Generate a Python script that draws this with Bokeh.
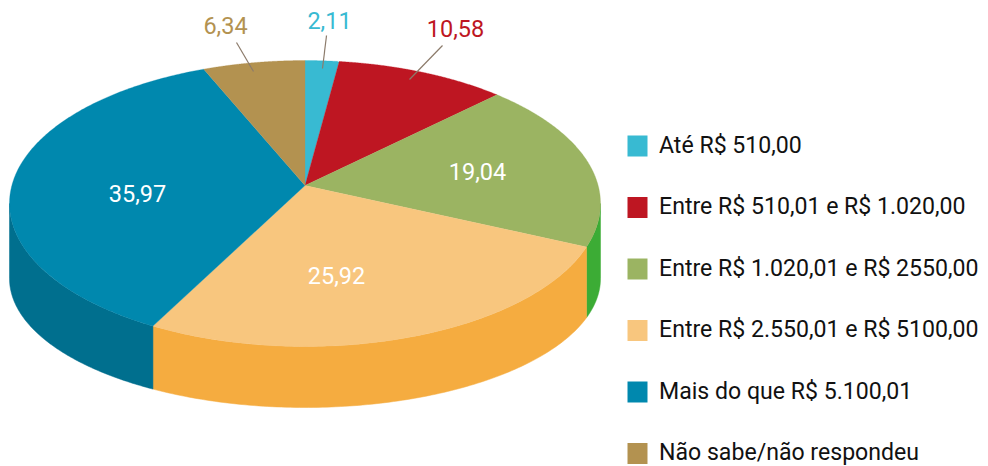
import numpy as np
from bokeh.plotting import figure
from bokeh.embed import file_html
from bokeh.resources import INLINE
from bokeh.core.properties import value

categories = ["Até R$ 510,00", "Entre R$ 510,01 e R$ 1.020,00", "Entre R$ 1.020,01 e R$ 2550,00",
              "Entre R$ 2.550,01 e R$ 5100,00", "Mais do que R$ 5.100,01", "Não sabe/não respondeu"]
values = [2.11, 10.58, 19.04, 25.92, 35.97, 6.34]
labels = ["2,11", "10,58", "19,04", "25,92", "35,97", "6,34"]
top_colors = ["#38BAD2", "#BE1622", "#9BB462", "#F8C67E", "#0088AE", "#B39250"]
side_colors = ["#38BAD2", "#BE1622", "#3CAC35", "#F5AC40", "#006F8E", "#B39250"]
label_colors = ["#38BAD2", "#BE1622", "#FFFFFF", "#FFFFFF", "#FFFFFF", "#B39250"]
label_x = [329, 455, 477, 336, 137, 225]
label_y = [20, 28, 171, 275, 193, 25]
leader_x = [[326, 322], [442, 409], [236, 253]]
leader_y = [[35, 68], [45, 79], [42, 71]]

FONT = "Roboto"
CX, CY, RX, RY = 304.5, 203, 295.5, 143
APEX = 18 / RY
CY2, RY2 = 278, 129

def rim(theta):
    """Unit-disc rim point hit by the ray at theta from the off-centre apex."""
    sx, cx = np.sin(theta), np.cos(theta)
    s = -APEX * cx + np.sqrt((APEX * cx) ** 2 + 1 - APEX ** 2)
    return s * sx, APEX + s * cx

p = figure(width=988, height=466, x_range=(0, 988), y_range=(466, 0),
           output_backend="svg", toolbar_location=None, min_border=0)
p.axis.visible = False
p.grid.visible = False
p.outline_line_color = None
p.background_fill_color = "#FFFFFF"

cum = np.concatenate([[0], np.cumsum(values)])
cum = cum / cum[-1] * 2 * np.pi
vis_a, vis_b = np.arctan2(1, -APEX), 2 * np.pi - np.arctan2(1, -APEX)

for a, b, col in zip(cum[:-1], cum[1:], side_colors):
    lo, hi = max(a, vis_a), min(b, vis_b)
    if hi <= lo:
        continue
    ux, uy = rim(np.linspace(lo, hi, 120))
    x = CX + RX * ux
    top = CY - RY * uy
    bot = CY2 - RY2 * uy
    p.patch(np.r_[x, x[::-1]], np.r_[top, bot[::-1]], fill_color=col, line_color=col, line_width=0.5)

for a, b, col in zip(cum[:-1], cum[1:], top_colors):
    ux, uy = rim(np.linspace(a, b, 200))
    p.patch(np.r_[CX, CX + RX * ux], np.r_[CY - RY * APEX, CY - RY * uy],
            fill_color=col, line_color=col, line_width=0.3)

p.multi_line(leader_x, leader_y, line_color="#8C7B6B", line_width=1.2)

p.text(label_x, label_y, text=labels, text_color=label_colors, text_font=value(FONT),
       text_font_size="23.5px", text_align="center", text_baseline="middle")

ly = 145.5 + 61.5 * np.arange(len(categories))
p.rect(x=[637] * len(categories), y=ly, width=20, height=21, fill_color=top_colors, line_color=None)
p.text([658.5] * len(categories), ly - 1, text=categories, text_color="#111111", text_font=value(FONT),
       text_font_size="23.1px", text_align="left", text_baseline="middle")

open("out.html", "w").write(file_html(p, INLINE))
